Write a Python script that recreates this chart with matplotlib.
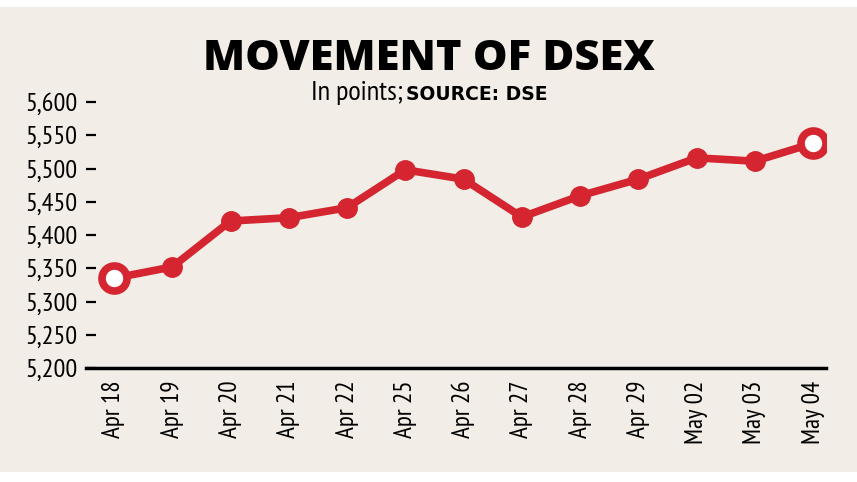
import matplotlib
matplotlib.use('Agg')
import matplotlib.pyplot as plt
from matplotlib.patches import Rectangle

# DSEX closing points
dates = ['Apr 18', 'Apr 19', 'Apr 20', 'Apr 21', 'Apr 22', 'Apr 25', 'Apr 26',
         'Apr 27', 'Apr 28', 'Apr 29', 'May 02', 'May 03', 'May 04']
dsex = [5335, 5352, 5421, 5426, 5441, 5498, 5484, 5427, 5459, 5484, 5516, 5511, 5538]
yticks = [5200, 5250, 5300, 5350, 5400, 5450, 5500, 5550, 5600]

bg = '#F2EEE7'
red = '#D42530'
narrow = ['PT Sans Narrow', 'DejaVu Sans']

fig = plt.figure(figsize=(8.57, 4.82), dpi=100, facecolor='white')
fig.patches.append(Rectangle((0, 10 / 482), 1, 465 / 482, transform=fig.transFigure,
                             facecolor=bg, edgecolor='none', zorder=-10))

ax = fig.add_axes([86 / 857, 114 / 482, 740 / 857, 266 / 482])
ax.set_facecolor('none')

x = list(range(len(dates)))
ax.plot(x, dsex, color=red, lw=5.5, marker='o', ms=14, mfc=red, mec=red,
        solid_capstyle='round', zorder=3)
# hollow end markers
ax.plot([x[0], x[-1]], [dsex[0], dsex[-1]], ls='none', marker='o', ms=18,
        mfc='white', mec=red, mew=5.5, zorder=4)

ax.set_xlim(-0.48, 12.22)
ax.set_ylim(5200, 5600)
ax.set_yticks(yticks)
ax.set_yticklabels([f'{v:,}' for v in yticks], family=narrow, fontsize=19)
ax.set_xticks(x)
ax.set_xticklabels(dates, rotation=90, family=narrow, fontsize=18)

for s in ['top', 'right', 'left']:
    ax.spines[s].set_visible(False)
ax.spines['bottom'].set_linewidth(2.5)
ax.spines['bottom'].set_color('black')

ax.tick_params(axis='y', direction='in', length=7, width=1.6, pad=6, colors='black')
ax.tick_params(axis='x', length=0, pad=9)

fig.text(0.5, 412 / 482, 'MOVEMENT OF DSEX', ha='center', va='baseline',
         family=['Open Sans', 'DejaVu Sans'], fontweight='heavy', fontsize=31.3)
fig.text(403 / 857, 382 / 482, 'In points;', ha='right', va='baseline',
         family=narrow, fontsize=20.5)
fig.text(406 / 857, 382 / 482, 'SOURCE: DSE', ha='left', va='baseline',
         family='DejaVu Sans', fontweight='bold', fontsize=13.5)

fig.savefig('out.png', dpi=100, facecolor='white')
